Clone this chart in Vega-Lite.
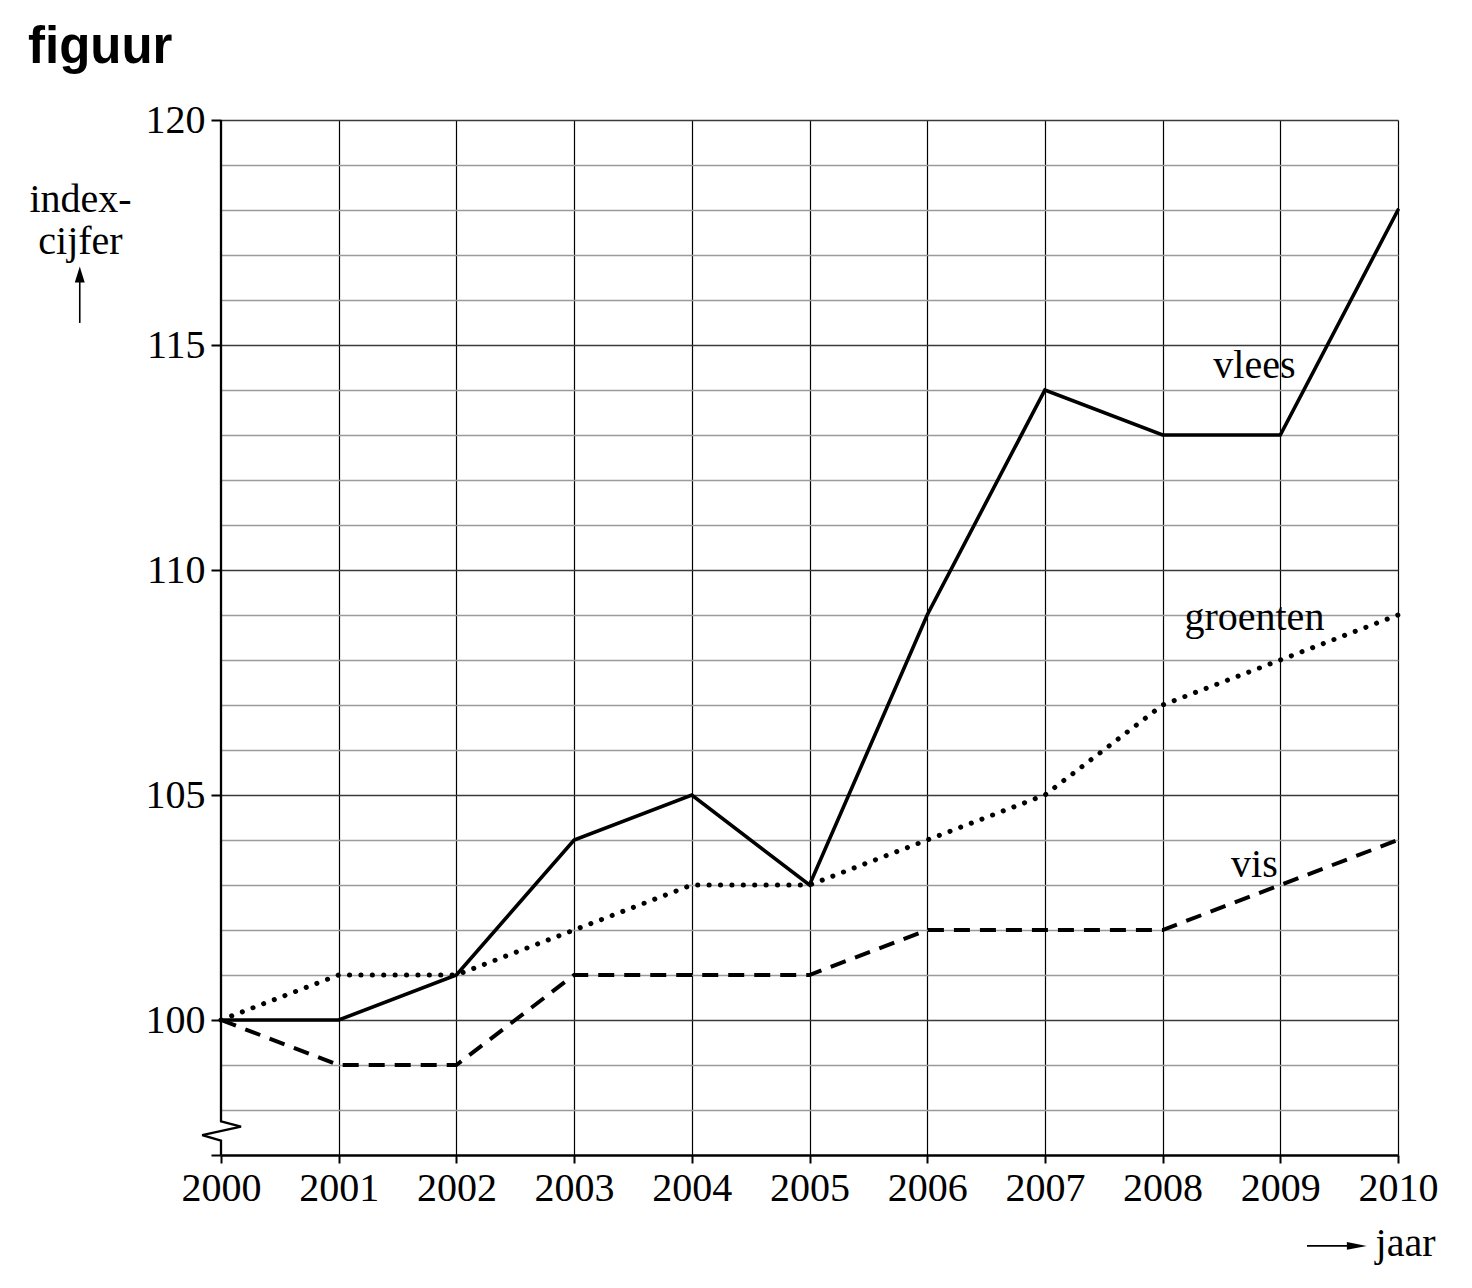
{
  "$schema": "https://vega.github.io/schema/vega-lite/v6.json",
  "width": 1177,
  "height": 1035,
  "autosize": {"type": "none"},
  "padding": {"left": 221, "top": 120, "right": 74, "bottom": 133},
  "background": "white",
  "title": {
    "text": "figuur",
    "anchor": "start",
    "frame": "group",
    "dx": -193,
    "offset": -14,
    "baseline": "alphabetic",
    "font": "Liberation Sans",
    "fontSize": 51,
    "fontWeight": "bold",
    "color": "black"
  },
  "config": {"view": {"stroke": null}, "font": "Liberation Serif"},
  "datasets": {
    "reeksen": [
      {"jaar": 2000, "index": 100, "serie": "vlees"},
      {"jaar": 2001, "index": 100, "serie": "vlees"},
      {"jaar": 2002, "index": 101, "serie": "vlees"},
      {"jaar": 2003, "index": 104, "serie": "vlees"},
      {"jaar": 2004, "index": 105, "serie": "vlees"},
      {"jaar": 2005, "index": 103, "serie": "vlees"},
      {"jaar": 2006, "index": 109, "serie": "vlees"},
      {"jaar": 2007, "index": 114, "serie": "vlees"},
      {"jaar": 2008, "index": 113, "serie": "vlees"},
      {"jaar": 2009, "index": 113, "serie": "vlees"},
      {"jaar": 2010, "index": 118, "serie": "vlees"},
      {"jaar": 2000, "index": 100, "serie": "groenten"},
      {"jaar": 2001, "index": 101, "serie": "groenten"},
      {"jaar": 2002, "index": 101, "serie": "groenten"},
      {"jaar": 2003, "index": 102, "serie": "groenten"},
      {"jaar": 2004, "index": 103, "serie": "groenten"},
      {"jaar": 2005, "index": 103, "serie": "groenten"},
      {"jaar": 2006, "index": 104, "serie": "groenten"},
      {"jaar": 2007, "index": 105, "serie": "groenten"},
      {"jaar": 2008, "index": 107, "serie": "groenten"},
      {"jaar": 2009, "index": 108, "serie": "groenten"},
      {"jaar": 2010, "index": 109, "serie": "groenten"},
      {"jaar": 2000, "index": 100, "serie": "vis"},
      {"jaar": 2001, "index": 99, "serie": "vis"},
      {"jaar": 2002, "index": 99, "serie": "vis"},
      {"jaar": 2003, "index": 101, "serie": "vis"},
      {"jaar": 2004, "index": 101, "serie": "vis"},
      {"jaar": 2005, "index": 101, "serie": "vis"},
      {"jaar": 2006, "index": 102, "serie": "vis"},
      {"jaar": 2007, "index": 102, "serie": "vis"},
      {"jaar": 2008, "index": 102, "serie": "vis"},
      {"jaar": 2009, "index": 103, "serie": "vis"},
      {"jaar": 2010, "index": 104, "serie": "vis"}
    ],
    "labels": [
      {"jaar": 2008.78, "index": 114.27, "naam": "vlees"},
      {"jaar": 2008.78, "index": 108.67, "naam": "groenten"},
      {"jaar": 2008.78, "index": 103.18, "naam": "vis"}
    ],
    "asbreuk": [
      {"jaar": 2000, "index": 120, "volgorde": 1},
      {"jaar": 2000, "index": 97.75, "volgorde": 2},
      {"jaar": 2000.17, "index": 97.63, "volgorde": 3},
      {"jaar": 1999.84, "index": 97.44, "volgorde": 4},
      {"jaar": 2000, "index": 97.32, "volgorde": 5},
      {"jaar": 2000, "index": 97, "volgorde": 6}
    ],
    "pijlen": [
      {"x1": 1998.8, "y1": 115.49, "x2": 1998.8, "y2": 116.56},
      {"x1": 2009.227, "y1": 94.98, "x2": 2009.65, "y2": 94.98}
    ]
  },
  "layer": [
    {
      "data": {"name": "reeksen"},
      "transform": [{"filter": "datum.serie === 'vlees'"}],
      "mark": {"type": "line", "strokeCap": "round", "strokeJoin": "miter", "strokeWidth": 3.6, "color": "black", "clip": false},
      "encoding": {
        "x": {
          "field": "jaar",
          "type": "quantitative",
          "scale": {"domain": [2000, 2010], "nice": false, "zero": false},
          "axis": {
            "values": [2000, 2001, 2002, 2003, 2004, 2005, 2006, 2007, 2008, 2009, 2010],
            "format": "d",
            "title": "jaar",
            "titleX": 1214,
            "titleY": 100,
            "titleAlign": "right",
            "titleBaseline": "alphabetic",
            "titleFontSize": 40,
            "titleFontWeight": "normal",
            "titleFont": "Liberation Serif",
            "titleColor": "black",
            "domain": true,
            "domainColor": "black",
            "domainWidth": 2.5,
            "grid": true,
            "gridColor": "black",
            "gridWidth": 1.2,
            "gridOpacity": {"condition": {"test": "datum.value === 2000", "value": 0}, "value": 1},
            "ticks": true,
            "tickSize": 8,
            "tickColor": "black",
            "tickWidth": 2,
            "labelFontSize": 40,
            "labelFont": "Liberation Serif",
            "labelColor": "black",
            "labelPadding": 5,
            "labelFlush": false,
            "labelOverlap": false
          }
        },
        "y": {
          "field": "index",
          "type": "quantitative",
          "scale": {"domain": [97, 120], "nice": false, "zero": false},
          "axis": {
            "values": [97, 98, 99, 100, 101, 102, 103, 104, 105, 106, 107, 108, 109, 110, 111, 112, 113, 114, 115, 116, 117, 118, 119, 120],
            "title": ["index-", "cijfer"],
            "titleAngle": 0,
            "titleAlign": "center",
            "titleBaseline": "alphabetic",
            "titleX": -141,
            "titleY": 91,
            "titleFontSize": 40,
            "titleFontWeight": "normal",
            "titleFont": "Liberation Serif",
            "titleLineHeight": 42,
            "titleColor": "black",
            "domain": false,
            "grid": true,
            "gridColor": {"condition": {"test": "datum.value % 5 === 0", "value": "#3a3a3a"}, "value": "#9a9a9a"},
            "gridWidth": {"condition": {"test": "datum.value % 5 === 0", "value": 1.6}, "value": 1.3},
            "gridOpacity": {"condition": {"test": "datum.value === 97", "value": 0}, "value": 1},
            "ticks": true,
            "tickSize": 10,
            "tickColor": "black",
            "tickWidth": 2,
            "tickOpacity": {"condition": {"test": "datum.value % 5 === 0 || datum.value === 97", "value": 1}, "value": 0},
            "labelExpr": "datum.value % 5 === 0 ? datum.label : ''",
            "labelFontSize": 40,
            "labelFont": "Liberation Serif",
            "labelColor": "black",
            "labelPadding": 6,
            "labelOverlap": false,
            "labelFlush": false,
            "labelBound": false
          }
        }
      }
    },
    {
      "data": {"name": "reeksen"},
      "transform": [{"filter": "datum.serie === 'groenten'"}],
      "mark": {"type": "line", "strokeCap": "round", "strokeDash": [0.1, 11.3], "strokeWidth": 5, "color": "black", "clip": false},
      "encoding": {
        "x": {"field": "jaar", "type": "quantitative", "scale": {"domain": [2000, 2010], "nice": false, "zero": false}},
        "y": {"field": "index", "type": "quantitative", "scale": {"domain": [97, 120], "nice": false, "zero": false}}
      }
    },
    {
      "data": {"name": "reeksen"},
      "transform": [{"filter": "datum.serie === 'vis'"}],
      "mark": {"type": "line", "strokeCap": "butt", "strokeDash": [16, 10], "strokeWidth": 4, "color": "black", "clip": false},
      "encoding": {
        "x": {"field": "jaar", "type": "quantitative", "scale": {"domain": [2000, 2010], "nice": false, "zero": false}},
        "y": {"field": "index", "type": "quantitative", "scale": {"domain": [97, 120], "nice": false, "zero": false}}
      }
    },
    {
      "data": {"name": "asbreuk"},
      "mark": {"type": "line", "color": "black", "strokeWidth": 2.3, "clip": false},
      "encoding": {
        "x": {"field": "jaar", "type": "quantitative", "scale": {"domain": [2000, 2010], "nice": false, "zero": false}},
        "y": {"field": "index", "type": "quantitative", "scale": {"domain": [97, 120], "nice": false, "zero": false}},
        "order": {"field": "volgorde", "type": "quantitative"}
      }
    },
    {
      "data": {"name": "labels"},
      "mark": {"type": "text", "font": "Liberation Serif", "fontSize": 40, "align": "center", "baseline": "alphabetic", "color": "black"},
      "encoding": {
        "x": {"field": "jaar", "type": "quantitative", "scale": {"domain": [2000, 2010], "nice": false, "zero": false}},
        "y": {"field": "index", "type": "quantitative", "scale": {"domain": [97, 120], "nice": false, "zero": false}},
        "text": {"field": "naam", "type": "nominal"}
      }
    },
    {
      "data": {"name": "pijlen"},
      "mark": {"type": "rule", "color": "black", "strokeWidth": 1.6, "clip": false},
      "encoding": {
        "x": {"field": "x1", "type": "quantitative", "scale": {"domain": [2000, 2010], "nice": false, "zero": false}},
        "x2": {"field": "x2"},
        "y": {"field": "y1", "type": "quantitative", "scale": {"domain": [97, 120], "nice": false, "zero": false}},
        "y2": {"field": "y2"}
      }
    },
    {
      "data": {"values": [{"x": 1998.8, "y": 116.56}]},
      "mark": {"type": "point", "shape": "M0,-0.75L0.45,0.7L-0.45,0.7Z", "filled": true, "color": "black", "size": 484, "opacity": 1, "clip": false},
      "encoding": {
        "x": {"field": "x", "type": "quantitative", "scale": {"domain": [2000, 2010], "nice": false, "zero": false}},
        "y": {"field": "y", "type": "quantitative", "scale": {"domain": [97, 120], "nice": false, "zero": false}}
      }
    },
    {
      "data": {"values": [{"x": 2009.65, "y": 94.98}]},
      "mark": {"type": "point", "shape": "M0.9,0L-0.9,0.35L-0.9,-0.35Z", "filled": true, "color": "black", "size": 484, "opacity": 1, "clip": false},
      "encoding": {
        "x": {"field": "x", "type": "quantitative", "scale": {"domain": [2000, 2010], "nice": false, "zero": false}},
        "y": {"field": "y", "type": "quantitative", "scale": {"domain": [97, 120], "nice": false, "zero": false}}
      }
    }
  ]
}
